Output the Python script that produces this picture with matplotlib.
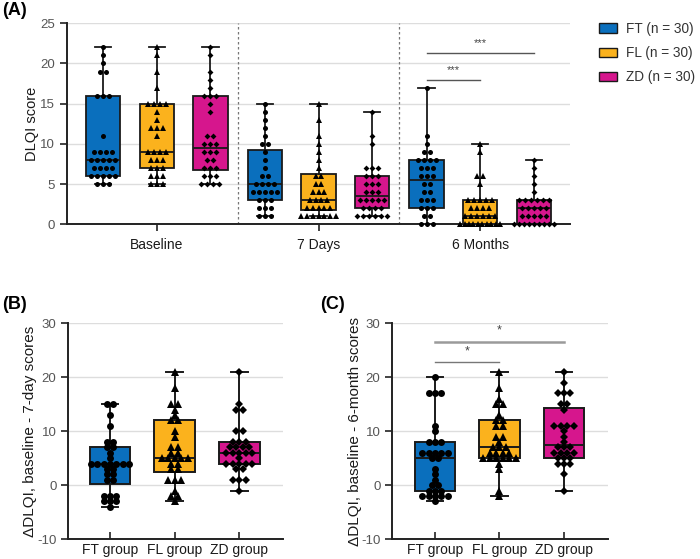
import numpy as np
import matplotlib
matplotlib.use("Agg")
import matplotlib.pyplot as plt
from matplotlib.patches import Patch

plt.rcParams['font.family'] = ['Liberation Sans', 'DejaVu Sans']
plt.rcParams['axes.unicode_minus'] = False

# ---------------- data ----------------
groups = ["FT", "FL", "ZD"]
legend_labels = ["FT (n = 30)", "FL (n = 30)", "ZD (n = 30)"]
timepoints = ["Baseline", "7 Days", "6 Months"]
group_labels = ["FT group", "FL group", "ZD group"]
colors = ["#0a6fbd", "#fbb21d", "#d6168d"]
markers = ["o", "^", "D"]

base_FT = [5, 5, 5, 6, 6, 6, 6, 6, 7, 7, 7, 7, 8, 8, 8, 8, 8, 9, 9, 9, 9, 11, 16, 16, 16, 19, 19, 20, 21, 22]
base_FL = [5, 5, 5, 6, 6, 6, 7, 7, 7, 8, 8, 8, 9, 9, 9, 9, 11, 12, 12, 12, 13, 14, 15, 15, 15, 15, 17, 19, 21, 22]
base_ZD = [5, 5, 5, 5, 6, 6, 6, 7, 7, 7, 8, 8, 9, 9, 9, 10, 10, 10, 11, 11, 14, 15, 16, 16, 16, 17, 18, 19, 21, 22]

d7_FT = [1, 1, 1, 2, 2, 2, 3, 3, 3, 4, 4, 4, 4, 4, 5, 5, 5, 5, 6, 6, 7, 8, 9, 10, 10, 11, 12, 13, 14, 15]
d7_FL = [1, 1, 1, 1, 1, 1, 1, 2, 2, 2, 2, 2, 3, 3, 3, 3, 4, 4, 4, 5, 5, 6, 6, 7, 8, 9, 10, 11, 13, 15]
d7_ZD = [1, 1, 1, 1, 1, 1, 2, 2, 2, 2, 3, 3, 3, 3, 3, 4, 4, 4, 5, 5, 5, 6, 6, 6, 7, 7, 7, 10, 11, 14]

m6_FT = [0, 0, 0, 1, 1, 2, 2, 2, 3, 3, 3, 4, 4, 5, 5, 6, 6, 6, 7, 7, 7, 8, 8, 8, 8, 9, 9, 10, 11, 17]
m6_FL = [0, 0, 0, 0, 0, 0, 0, 0, 0, 0, 1, 1, 1, 1, 1, 1, 2, 2, 2, 2, 3, 3, 3, 3, 3, 5, 6, 6, 9, 10]
m6_ZD = [0, 0, 0, 0, 0, 0, 0, 0, 0, 1, 1, 1, 1, 1, 2, 2, 2, 2, 2, 3, 3, 3, 3, 3, 3, 4, 5, 6, 7, 8]

dB_FT = [-4, -3, -3, -3, -2, -2, -2, 1, 1, 2, 2, 3, 3, 4, 4, 4, 4, 4, 4, 4, 5, 6, 7, 7, 8, 8, 11, 13, 15, 15]
dB_FL = [-3, -2, -2, -1, 1, 1, 1, 3, 3, 4, 4, 5, 5, 5, 5, 5, 6, 6, 7, 7, 9, 10, 12, 12, 13, 14, 15, 15, 18, 21]
dB_ZD = [-1, 1, 1, 1, 3, 3, 4, 4, 4, 4, 4, 5, 6, 6, 6, 6, 6, 7, 7, 7, 7, 8, 8, 8, 10, 10, 14, 14, 15, 21]

dC_FT = [-3, -2, -2, -2, -2, -2, -1, -1, -1, 0, 0, 1, 2, 3, 5, 5, 6, 6, 6, 6, 6, 8, 8, 8, 10, 11, 17, 17, 17, 20]
dC_FL = [-2, -1, 3, 4, 5, 5, 5, 5, 5, 5, 6, 6, 6, 6, 7, 7, 7, 8, 9, 9, 11, 11, 12, 12, 13, 15, 15, 16, 18, 21]
dC_ZD = [-1, 2, 4, 4, 4, 5, 5, 5, 6, 6, 6, 6, 7, 7, 7, 8, 9, 10, 11, 11, 11, 11, 14, 15, 15, 17, 17, 17, 19, 21]

panelA = [[base_FT, base_FL, base_ZD], [d7_FT, d7_FL, d7_ZD], [m6_FT, m6_FL, m6_ZD]]
panelB = [dB_FT, dB_FL, dB_ZD]
panelC = [dC_FT, dC_FL, dC_ZD]

sig_A = [("***", 0, 1), ("***", 0, 2)]      # within 6 Months: FT vs FL, FT vs ZD
sig_C = [("*", 0, 1), ("*", 0, 2)]


# ---------------- helpers ----------------
def stats(vals):
    v = np.asarray(vals, float)
    q1, med, q3 = np.percentile(v, [25, 50, 75], method="weibull")
    return dict(med=med, q1=q1, q3=q3, whislo=v.min(), whishi=v.max(), fliers=[])


def draw_box(ax, vals, pos, width, capw, color, marker, ms, sp, maxw, lw=1.3):
    ax.bxp([stats(vals)], positions=[pos], widths=width, capwidths=capw,
           patch_artist=True, showfliers=False,
           boxprops=dict(facecolor=color, edgecolor="#1a1a1a", linewidth=lw),
           medianprops=dict(color="#1a1a1a", linewidth=lw),
           whiskerprops=dict(color="#1a1a1a", linewidth=lw),
           capprops=dict(color="#1a1a1a", linewidth=lw), zorder=2)
    v = np.asarray(vals, float)
    xs, ys = [], []
    for u in np.unique(v):
        k = int((v == u).sum())
        s = sp if k == 1 else min(sp, maxw / (k - 1))
        for i in range(k):
            xs.append(pos + (i - (k - 1) / 2) * s)
            ys.append(u)
    ax.plot(xs, ys, linestyle="none", marker=marker, ms=ms, color="black",
            markeredgewidth=0, zorder=4, clip_on=False)


def style_axes(ax, xdir="out"):
    for s in ["top", "right"]:
        ax.spines[s].set_visible(False)
    for s in ["left", "bottom"]:
        ax.spines[s].set_color("#222222")
        ax.spines[s].set_linewidth(1.4)
    ax.yaxis.grid(True, color="#dddddd", linewidth=1)
    ax.set_axisbelow(True)
    ax.tick_params(axis="y", colors="#222222", labelcolor="#555555", labelsize=9.5,
                   length=5, width=1.2)
    ax.tick_params(axis="x", colors="#222222", labelcolor="#1a1a1a", labelsize=10,
                   length=5, width=1.2, direction=xdir, pad=3 if xdir == "in" else 5)


W, H = 700, 559
fig = plt.figure(figsize=(7, 5.59), dpi=100)

# ---------------- panel A ----------------
axA = fig.add_axes([67 / W, 1 - 224.3 / H, (570 - 67) / W, (224.3 - 23.3) / H])
style_axes(axA)
offs = [-0.332, 0.0, 0.332]
for t, grp in enumerate(panelA):
    for g, vals in enumerate(grp):
        ms = [3.6, 4.2, 3.0][g]
        draw_box(axA, vals, t + offs[g], 0.212, 0.1, colors[g], markers[g], ms,
                 0.037, 0.25, lw=1.3)
for xsep in [0.5, 1.5]:
    axA.axvline(xsep, color="#777777", linestyle=(0, (2, 2)), linewidth=0.9, zorder=1)
axA.set_xlim(-0.555, 2.555)
axA.set_ylim(0, 25)
axA.set_yticks([0, 5, 10, 15, 20, 25])
axA.set_xticks(range(3))
axA.set_xticklabels(timepoints)
axA.set_ylabel("DLQI score", fontsize=10.5, color="#1a1a1a")
axA.yaxis.set_label_coords(-0.056, 0.5)
for (txt, a, b), ly in zip(sig_A, [17.9, 21.3]):
    x0, x1 = 2 + offs[a], 2 + offs[b]
    axA.plot([x0, x1], [ly, ly], color="#555555", linewidth=1.0, zorder=3)
    axA.text((x0 + x1) / 2, ly + 0.6, txt, ha="center", va="bottom", fontsize=8,
             color="#444444")

fig.legend(handles=[Patch(facecolor=c, edgecolor="#1a1a1a", linewidth=1) for c in colors],
           labels=legend_labels, loc="upper left", bbox_to_anchor=(599 / W, 1 - 22 / H),
           frameon=False, fontsize=9.8, handlelength=1.3, handleheight=0.7,
           labelspacing=0.75, handletextpad=0.65, borderpad=0, borderaxespad=0,
           labelcolor="#333333")
fig.text(2 / W, 1 - 2 / H, "(A)", fontsize=13, fontweight="bold", ha="left", va="top")

# ---------------- panels B, C ----------------
def delta_panel(rect, data, xlim, ylabel, labx):
    ax = fig.add_axes(rect)
    style_axes(ax, xdir="in")
    for g, vals in enumerate(data):
        ms = [5.0, 5.6, 4.4][g]
        draw_box(ax, vals, g, 0.63, 0.26, colors[g], markers[g], ms, 0.1, 0.75, lw=1.4)
    ax.set_xlim(*xlim)
    ax.set_ylim(-10, 30)
    ax.set_yticks([-10, 0, 10, 20, 30])
    ax.set_xticks(range(3))
    ax.set_xticklabels(group_labels)
    ax.set_ylabel(ylabel, fontsize=11, color="#1a1a1a")
    ax.yaxis.set_label_coords(labx, 0.5)
    return ax

axB = delta_panel([68.3 / W, 1 - 539.3 / H, (283.3 - 68.3) / W, (539.3 - 323.3) / H],
                  panelB, (-0.645, 2.68), "\u0394DLQI, baseline - 7-day scores", -0.145)
axC = delta_panel([392.3 / W, 1 - 539.3 / H, (608.3 - 392.3) / W, (539.3 - 323.3) / H],
                  panelC, (-0.662, 2.687), "\u0394DLQI, baseline - 6-month scores", -0.142)
for (txt, a, b), ly, lw, lc in zip(sig_C, [22.8, 26.6], [1.0, 1.8], ["#777777", "#9a9a9a"]):
    axC.plot([a, b], [ly, ly], color=lc, linewidth=lw, zorder=3)
    axC.text((a + b) / 2, ly + 0.9, txt, ha="center", va="bottom", fontsize=9,
             color="#444444")

fig.text(2 / W, 1 - 296 / H, "(B)", fontsize=13, fontweight="bold", ha="left", va="top")
fig.text(320 / W, 1 - 296 / H, "(C)", fontsize=13, fontweight="bold", ha="left", va="top")

fig.savefig("out.png", dpi=100)
